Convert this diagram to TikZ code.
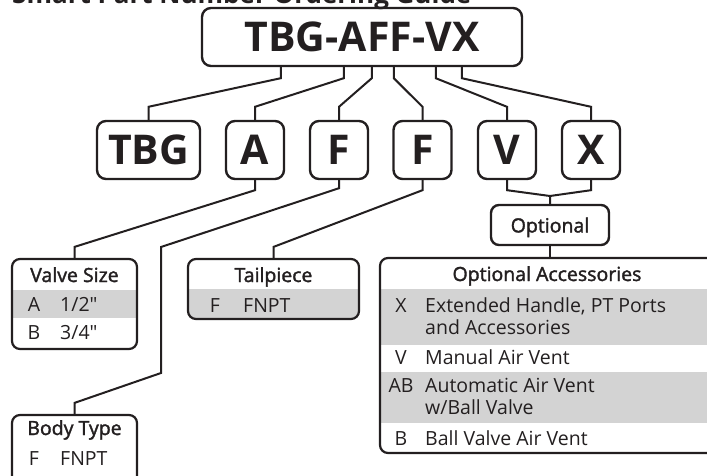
\documentclass[tikz,border=0pt]{standalone}
\usepackage{fontspec}
\setmainfont{Open Sans}
\newfontfamily\halbfett{Open Sans}[FakeBold=1.8]
\definecolor{tinte}{RGB}{35,31,32}
\definecolor{zeile}{RGB}{211,211,211}

\begin{document}
\begin{tikzpicture}[x=1pt,y=-1pt,
  kasten/.style={draw=tinte,line width=2.4pt,rounded corners=9pt,text=tinte,inner sep=0pt},
  gross/.style={kasten,font=\bfseries\fontsize{41}{41}\selectfont,minimum height=58pt},
  tabelle/.style={draw=tinte,line width=2.2pt,rounded corners=8pt,inner sep=0pt},
  kopf/.style={anchor=base,text=tinte,font=\halbfett\fontsize{19.5}{19.5}\selectfont,inner sep=0pt},
  eintrag/.style={anchor=base west,text=tinte,font=\fontsize{19.5}{19.5}\selectfont,inner sep=0pt},
  kennung/.style={anchor=base,text=tinte,font=\fontsize{19.5}{19.5}\selectfont,inner sep=0pt},
  verbindung/.style={draw=tinte,line width=2pt}]
  \useasboundingbox (0,0) rectangle (707,476);
  \clip (0,0) rectangle (707,476);
  % Titel
  \node[anchor=base west,inner sep=0pt,text=tinte,font=\bfseries\fontsize{26}{26}\selectfont] (titel) at (12,4) {Smart Part Number Ordering Guide};
  % Teilenummer
  \node[gross,minimum width=320pt] (teil) at (362,37) {TBG-AFF-VX};
  \node[gross,minimum width=103pt] (tbg) at (148.5,150) {TBG};
  \foreach \n/\t/\xp in {a/A/255,f1/F/339,f2/F/422.5,v/V/507,x/X/591}
    \node[gross,minimum width=58pt] (\n) at (\xp,150) {\t};
  \foreach \dx/\n in {80/tbg,143/a,171/f1,193/f2,235/v,261/x}
    \draw[verbindung] ([xshift=\dx pt]teil.south west) -- ++(0,11) -- ([yshift=13pt]\n.north) -- (\n.north);
  % Optional
  \node[kasten,font=\halbfett\fontsize{19.5}{19.5}\selectfont,minimum width=118pt,minimum height=40pt,text depth=0pt,rounded corners=8pt] (opt) at (550,225) {Optional};
  \coordinate (knoten) at (550,196);
  \draw[verbindung] (v.south) -- ++(0,10) -- (knoten) -- (opt.north);
  \draw[verbindung] (x.south) -- ++(0,10) -- (knoten);
  % graue Zeilen
  \begin{scope}
    \clip[rounded corners=8pt] (12,259) rectangle (137,349);
    \fill[zeile] (12,290) rectangle (137,318);
  \end{scope}
  \begin{scope}
    \clip[rounded corners=8pt] (188,259) rectangle (359,319);
    \fill[zeile] (188,289) rectangle (359,319);
  \end{scope}
  \begin{scope}
    \clip[rounded corners=8pt] (380,258) rectangle (720,453);
    \fill[zeile] (380,289) rectangle (720,345);
    \fill[zeile] (380,372) rectangle (720,423);
  \end{scope}
  % Tabellen
  \node[tabelle,minimum width=125pt,minimum height=90pt] (groesse) at (74.5,304) {};
  \node[tabelle,minimum width=125pt,minimum height=70pt] (koerper) at (74.5,450) {};
  \node[tabelle,minimum width=171pt,minimum height=60pt] (anschluss) at (273.5,289) {};
  \node[tabelle,minimum width=340pt,minimum height=195pt] (zubehoer) at (550,355.5) {};
  \draw[verbindung] (a.south) -- ++(0,10) -- ([yshift=11pt]groesse.north) -- (groesse.north);
  \draw[verbindung] (f1.south) -- ++(0,8) -- (161,247) -- (161,373) -- ([yshift=11pt]koerper.north) -- (koerper.north);
  \draw[verbindung] (f2.south) -- ++(0,10) -- ([yshift=11pt]anschluss.north) -- (anschluss.north);
  \draw[verbindung] (opt.south) -- (zubehoer.north);
  % Valve Size
  \node[kopf] (groesse-kopf) at (74.5,282) {Valve Size};
  \node[kennung] (groesse-a) at (34,311) {A};
  \node[eintrag] (groesse-a-t) at (60,311) {1/2\textquotedbl};
  \node[kennung] (groesse-b) at (34,339) {B};
  \node[eintrag] (groesse-b-t) at (60,339) {3/4\textquotedbl};
  % Body Type
  \node[kopf] (koerper-kopf) at (74.5,435) {Body Type};
  \node[kennung] (koerper-f) at (34,465) {F};
  \node[eintrag] (koerper-f-t) at (60,465) {FNPT};
  % Tailpiece
  \node[kopf] (anschluss-kopf) at (273.5,282) {Tailpiece};
  \node[kennung] (anschluss-f) at (215,312) {F};
  \node[eintrag] (anschluss-f-t) at (243,312) {FNPT};
  % Optional Accessories
  \node[kopf] (zubehoer-kopf) at (547,281) {Optional Accessories};
  \node[kennung] (zubehoer-x) at (401,312) {X};
  \node[eintrag] (zubehoer-x-t) at (425,312) {Extended Handle, PT Ports};
  \node[eintrag] (zubehoer-x-t2) at (425,334) {and Accessories};
  \node[kennung] (zubehoer-v) at (401,364) {V};
  \node[eintrag] (zubehoer-v-t) at (425,364) {Manual Air Vent};
  \node[kennung] (zubehoer-ab) at (401,392) {AB};
  \node[eintrag] (zubehoer-ab-t) at (425,392) {Automatic Air Vent};
  \node[eintrag] (zubehoer-ab-t2) at (425,414) {w/Ball Valve};
  \node[kennung] (zubehoer-b) at (401,445) {B};
  \node[eintrag] (zubehoer-b-t) at (425,445) {Ball Valve Air Vent};
\end{tikzpicture}
\end{document}
